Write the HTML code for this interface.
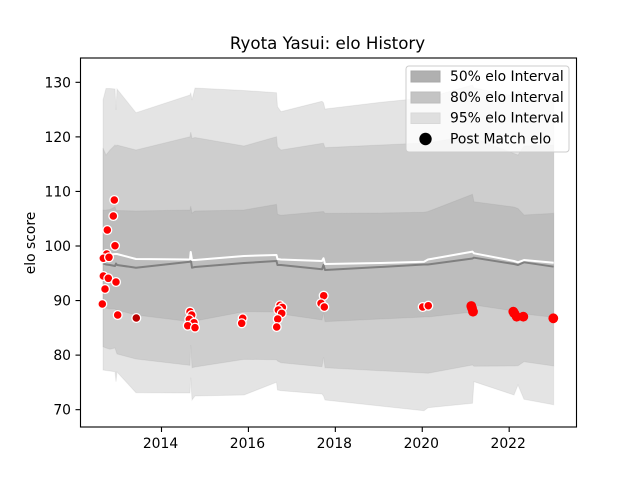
<!DOCTYPE html>
<html lang="en">
<head>
<meta charset="utf-8">
<title>Ryota Yasui: elo History</title>
<style>
html,body{margin:0;padding:0;background:#fff;}
svg{display:block;}
text{font-family:"DejaVu Sans","Liberation Sans",sans-serif;fill:#000;}
</style>
</head>
<body>
<svg id="chart" xmlns="http://www.w3.org/2000/svg" width="640" height="480" viewBox="0 0 640 480">
  <rect x="0" y="0" width="640" height="480" fill="#fff"/>
  <text x="327.5" y="49" font-size="16.67" text-anchor="middle">Ryota Yasui: elo History</text>
  <text x="0" y="0" font-size="13.89" text-anchor="middle" transform="translate(35,243) rotate(-90)">elo score</text>
  <g id="bands"></g>
  <g id="lines"></g>
  <g id="points"></g>
  <g id="ticks"></g>
  <rect x="80.5" y="58" width="496" height="369" fill="none" stroke="#000" stroke-width="1.11"/>
  <g>
    <rect x="406" y="66" width="163" height="86" rx="3" fill="#fff" fill-opacity="0.8" stroke="#ccc" stroke-width="1"/>
    <rect x="411" y="71" width="29" height="11" fill="#b0b0b0" stroke="#a8a8a8"/>
    <text x="450" y="81" font-size="13.89">50% elo Interval</text>
    <rect x="411" y="92" width="29" height="11" fill="#c4c4c4" stroke="#bcbcbc"/>
    <text x="450" y="102" font-size="13.89">80% elo Interval</text>
    <rect x="411" y="113" width="29" height="10.5" fill="#dfdfdf" stroke="#d8d8d8"/>
    <text x="450" y="122.5" font-size="13.89">95% elo Interval</text>
    <circle cx="425.5" cy="139" r="6.2" fill="#000"/>
    <text x="450" y="143.5" font-size="13.89">Post Match elo</text>
  </g>
</svg>
<script>
var xTickLabels = [2014, 2016, 2018, 2020, 2022];
var yTickLabels = [70, 80, 90, 100, 110, 120, 130];

var bandDates = [2012.654,2012.723,2012.815,2012.930,2012.953,2012.976,2013.413,2014.656,2014.672,2014.702,2014.771,2015.898,2016.646,2016.669,2016.750,2017.693,2017.728,2017.762,2019.028,2020.040,2020.132,2021.156,2021.190,2022.111,2022.203,2022.341,2023.024];
var upper95 = [126.76,128.87,128.87,128.78,124.93,128.78,124.43,127.68,128.10,126.76,128.96,128.50,128.10,125.53,124.62,126.52,126.26,125.11,126.32,127.13,127.22,129.51,128.96,127.49,128.41,127.86,126.39];
var lower95 = [77.27,77.18,77.09,76.96,75.13,76.91,73.11,73.06,75.86,71.77,72.51,72.69,75.02,73.61,73.48,72.87,72.51,71.77,70.67,69.81,70.36,71.17,75.13,72.69,74.52,71.90,70.91];
var upper80 = [117.96,116.68,117.60,118.51,118.33,118.51,117.60,120.03,120.89,119.74,119.89,118.33,120.03,118.20,117.60,118.82,118.82,118.02,118.51,118.88,118.88,120.34,119.79,116.95,116.68,118.33,118.51];
var lower80 = [81.54,81.31,81.07,81.31,80.76,80.21,79.29,78.13,81.85,77.69,77.82,79.23,79.16,78.92,78.61,77.88,79.60,77.69,77.14,76.72,76.67,78.19,77.95,78.01,78.06,78.79,78.01];
var upper50 = [106.60,106.60,106.69,107.15,106.60,106.51,106.41,106.60,107.33,106.05,106.41,106.60,107.64,105.81,105.63,106.29,106.32,105.99,106.05,106.18,106.32,109.48,108.12,107.15,106.87,105.68,105.99];
var lower50 = [88.64,88.64,88.45,88.45,88.27,88.27,87.35,86.13,86.80,86.07,86.25,87.96,87.90,87.72,87.54,86.44,87.72,86.13,86.62,86.99,86.99,87.90,89.19,88.09,87.90,87.54,86.93];
var meanElo = [97.98,98.35,98.44,98.53,98.53,98.53,97.62,97.53,98.90,97.43,97.43,98.17,98.35,97.62,97.53,97.25,97.75,96.70,96.88,97.12,97.53,98.96,98.66,97.25,97.01,97.43,96.94];
var medianElo = [96.83,96.61,96.52,96.33,96.79,96.52,96.02,97.12,97.62,96.02,96.15,96.88,97.25,96.52,96.52,95.73,96.52,95.60,96.15,96.61,96.61,97.71,97.86,96.70,96.52,97.01,96.21];

var matchDates = [2012.914,2012.891,2012.753,2012.930,2012.739,2012.661,2012.792,2012.661,2012.776,2012.953,2012.700,2012.638,2012.992,2014.656,2014.695,2014.640,2014.748,2014.603,2014.771,2015.868,2015.845,2016.727,2016.780,2016.688,2016.766,2016.674,2016.651,2017.732,2017.670,2017.746,2020.010,2020.139];
var matchElo = [108.43,105.50,102.93,100.05,98.53,97.75,97.93,94.50,94.08,93.40,92.12,89.37,87.35,87.96,87.35,86.57,85.94,85.39,85.03,86.75,85.83,89.13,88.76,88.27,87.66,86.62,85.15,90.89,89.50,88.82,88.82,89.06];
var darkMatchDates = [2013.420];
var darkMatchElo = [86.80];
var recentMatchDates = [2021.128,2021.145,2021.168,2022.095,2022.118,2022.173,2022.325,2023.015];
var recentMatchElo = [89.00,88.58,87.96,87.96,87.66,87.04,87.04,86.75];

var NS = 'http://www.w3.org/2000/svg';
function xScale(year) { return 161.5 + (year - 2014) * 43.46; }
function yScale(elo) { return 246 - (elo - 100) * 5.456; }
function make(tag, attrs, parent) {
  var el = document.createElementNS(NS, tag);
  for (var k in attrs) { el.setAttribute(k, attrs[k]); }
  parent.appendChild(el);
  return el;
}
function pointsFor(dates, values) {
  return dates.map(function (d, i) {
    return xScale(d).toFixed(2) + ',' + yScale(values[i]).toFixed(2);
  });
}

var bandsGroup = document.getElementById('bands');
var linesGroup = document.getElementById('lines');
var pointsGroup = document.getElementById('points');
var ticksGroup = document.getElementById('ticks');

function drawBand(upper, lower, name) {
  var pts = pointsFor(bandDates, upper).concat(pointsFor(bandDates, lower).reverse());
  var band = make('polygon', {points: pts.join(' '), fill: '#808080', 'fill-opacity': 0.21, stroke: '#808080', 'stroke-opacity': 0.12, 'stroke-width': 1}, bandsGroup);
  
  
}
drawBand(upper95, lower95, 'band-95-percent');
drawBand(upper80, lower80, 'band-80-percent');
drawBand(upper50, lower50, 'band-50-percent');

var medianLine = make('polyline', {points: pointsFor(bandDates, medianElo).join(' '), fill: 'none', stroke: '#808080', 'stroke-width': 2, 'stroke-linejoin': 'round'}, linesGroup);



var meanLine = make('polyline', {points: pointsFor(bandDates, meanElo).join(' '), fill: 'none', stroke: '#ffffff', 'stroke-width': 2, 'stroke-linejoin': 'round'}, linesGroup);



matchDates.forEach(function (d, i) {
  var dot = make('circle', {cx: xScale(d), cy: yScale(matchElo[i]), r: 4.4, fill: '#ff0000', stroke: '#ffffff', 'stroke-width': 1.3}, pointsGroup);
  
  
});
darkMatchDates.forEach(function (d, i) {
  var dark = make('circle', {cx: xScale(d), cy: yScale(darkMatchElo[i]), r: 4.4, fill: '#bb0000', stroke: '#ffffff', 'stroke-width': 1.3}, pointsGroup);
  
  
});
recentMatchDates.forEach(function (d, i) {
  var solid = make('circle', {cx: xScale(d), cy: yScale(recentMatchElo[i]), r: 4.9, fill: '#ff0000'}, pointsGroup);
  
  
});

xTickLabels.forEach(function (label) {
  var px = xScale(label);
  var mark = make('line', {x1: px, x2: px, y1: 427, y2: 432, stroke: '#000', 'stroke-width': 1.11}, ticksGroup);
  
  
  var txt = make('text', {x: px - 1, y: 448, 'font-size': 13.89, 'text-anchor': 'middle'}, ticksGroup);
  txt.textContent = label;
  
  
});
yTickLabels.forEach(function (label) {
  var py = yScale(label);
  var mark = make('line', {x1: 75.5, x2: 80.5, y1: py, y2: py, stroke: '#000', 'stroke-width': 1.11}, ticksGroup);
  
  
  var txt = make('text', {x: 71, y: py + 5, 'font-size': 13.89, 'text-anchor': 'end'}, ticksGroup);
  txt.textContent = label;
  
  
});
</script>
</body>
</html>
